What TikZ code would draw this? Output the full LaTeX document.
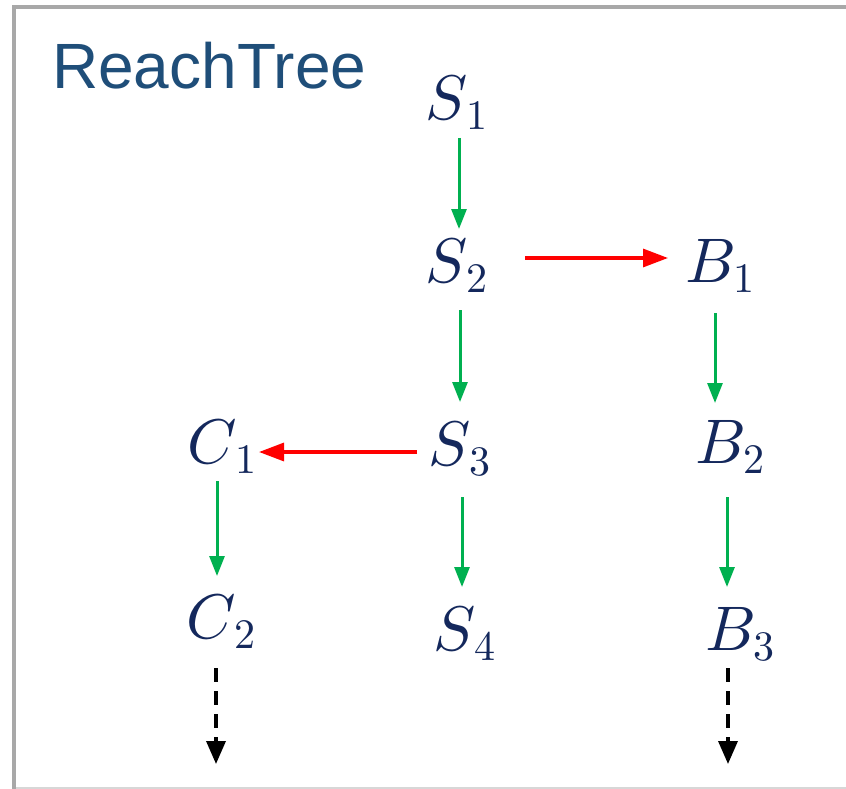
\documentclass[tikz,border=0pt]{standalone}
\usepackage{fontspec}
\usepackage{unicode-math}
\setmathfont{Latin Modern Math}
\newfontfamily\titlefont{Liberation Sans}
\usetikzlibrary{arrows.meta}
\definecolor{navy}{RGB}{20,40,92}
\definecolor{titleblue}{RGB}{31,78,121}
\definecolor{boxgray}{RGB}{168,168,168}
\definecolor{boxlight}{RGB}{215,215,215}
\definecolor{okgreen}{RGB}{0,176,80}
\definecolor{badred}{RGB}{255,0,0}
\newcommand\statelabel[2]{$#1$\kern-1pt\raisebox{-10pt}{\fontsize{42}{46}\selectfont$#2$}}
\tikzset{
  state/.style={anchor=base west, inner sep=0pt, text=navy, font=\fontsize{63}{70}\selectfont},
  garrow/.style={draw=okgreen, line width=3pt, -{Triangle[length=20pt,width=15pt]}},
  rarrow/.style={draw=badred, line width=3.2pt, -{Triangle[length=25pt,width=18pt]}},
  darrow/.style={draw=black, line width=3.5pt, dash pattern=on 14pt off 9pt, -{Triangle[length=23pt,width=19pt]}},
}
\begin{document}
\begin{tikzpicture}[x=1pt,y=-1pt]
\useasboundingbox (0,0) rectangle (846,789);
\begin{scope}
\clip (0,0) rectangle (846,789);
\draw[boxlight, line width=3pt] (14,788) -- (900,788);
\draw[boxgray, line width=4pt] (14,789) -- (14,7) -- (900,7);
\end{scope}
\node[anchor=base west, inner sep=0pt, text=titleblue, font=\titlefont\fontsize{64}{70}\selectfont] (title) at (52,89) {ReachTree};

\node[state] (S1) at (425,120) {\statelabel{S}{1}};
\node[state] (S2) at (425,282) {\statelabel{S}{2}};
\node[state] (B1) at (685,282) {\statelabel{B}{1}};
\node[state] (S3) at (428,465) {\statelabel{S}{3}};
\node[state] (C1) at (187,463) {\statelabel{C}{1}};
\node[state] (B2) at (695,463) {\statelabel{B}{2}};
\node[state] (C2) at (186,638) {\statelabel{C}{2}};
\node[state] (S4) at (433,650) {\statelabel{S}{4}};
\node[state] (B3) at (705,650) {\statelabel{B}{3}};

\coordinate (c2end) at (216,764);
\coordinate (b3end) at (728,764);

\draw[garrow] ([shift={(34,18)}]S1.base west) -- ([shift={(34,-53)}]S2.base west);
\draw[rarrow] ([shift={(100,-24)}]S2.base west) -- ([shift={(-17,-24)}]B1.base west);
\draw[garrow] ([shift={(35,28)}]S2.base west) -- ([shift={(32,-63)}]S3.base west);
\draw[garrow] ([shift={(30,31)}]B1.base west) -- ([shift={(20,-60)}]B2.base west);
\draw[rarrow] ([shift={(-11,-13)}]S3.base west) -- ([shift={(72,-11)}]C1.base west);
\draw[garrow] ([shift={(30,18)}]C1.base west) -- ([shift={(31,-62)}]C2.base west);
\draw[garrow] ([shift={(34,32)}]S3.base west) -- ([shift={(29,-63)}]S4.base west);
\draw[garrow] ([shift={(32,34)}]B2.base west) -- ([shift={(22,-63)}]B3.base west);
\draw[darrow] ([shift={(30,30)}]C2.base west) -- (c2end);
\draw[darrow] ([shift={(23,18)}]B3.base west) -- (b3end);
\end{tikzpicture}
\end{document}
